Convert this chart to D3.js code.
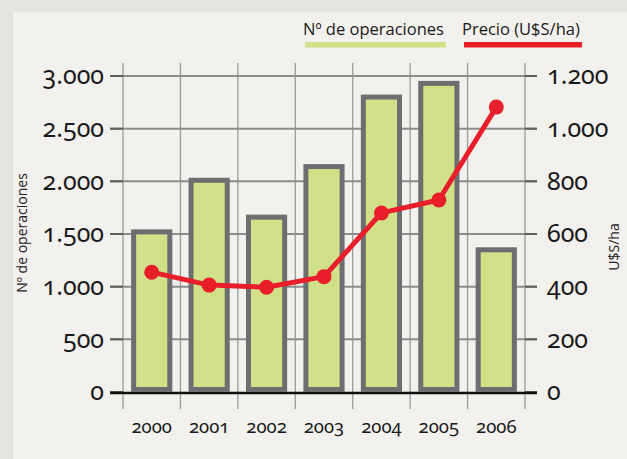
<!DOCTYPE html>
<html><head><meta charset="utf-8">
<script src="https://cdn.jsdelivr.net/npm/d3@7"></script>
<style>
body{margin:0;background:#e6e6e1;}
svg{display:block;}
.num{font-family:"Noto Sans","Open Sans",sans-serif;font-variant-numeric:oldstyle-nums;font-feature-settings:"onum" 1;}
</style></head>
<body>
<svg id="c" width="627" height="459"></svg>
<script>
const years = ["2000","2001","2002","2003","2004","2005","2006"];
const operaciones = [1520, 2010, 1660, 2140, 2800, 2930, 1350];
const precio = [455, 406, 398, 438, 680, 729, 1082];
const leftTicks = [0, 500, 1000, 1500, 2000, 2500, 3000];
const rightTicks = [0, 200, 400, 600, 800, 1000, 1200];
const legendLabels = ["Nº de operaciones", "Precio (U$S/ha)"];

const svg = d3.select("#c");
const fmt = d => d3.format(",")(d).replace(/,/g, ".");

// background
svg.append("rect").attr("width",627).attr("height",459).attr("fill","#e4e4df");
svg.append("rect").attr("x",13).attr("y",12).attr("width",614).attr("height",447).attr("fill","#f2f1ee");

const x0 = 123, x1 = 525, yTop = 76, yBot = 392;
const x = d3.scaleBand().domain(years).range([x0, x1]).paddingInner(0.37).paddingOuter(0.185);
const yL = d3.scaleLinear().domain([0, 3000]).range([yBot, yTop]);
const yR = d3.scaleLinear().domain([0, 1200]).range([yBot, yTop]);
const step = x.step();

// vertical grid lines
const vx = d3.range(years.length + 1).map(i => x0 + i * step);
svg.append("g").selectAll("line").data(vx).join("line")
  .attr("x1", d => d).attr("x2", d => d).attr("y1", 63).attr("y2", 409)
  .attr("stroke", "#9a9a9a").attr("stroke-width", 1.3);

// horizontal grid lines
svg.append("g").selectAll("line").data(leftTicks.filter(d => d > 0)).join("line")
  .attr("x1", 110).attr("x2", 537).attr("y1", d => yL(d)).attr("y2", d => yL(d))
  .attr("stroke", "#8c8c8c").attr("stroke-width", 2);

// tick marks (darker)
svg.append("g").selectAll("line").data(leftTicks).join("line")
  .attr("x1", 110).attr("x2", x0).attr("y1", d => yL(d)).attr("y2", d => yL(d))
  .attr("stroke", "#5e5e5e").attr("stroke-width", 2);
svg.append("g").selectAll("line").data(rightTicks).join("line")
  .attr("x1", x1).attr("x2", 537).attr("y1", d => yR(d)).attr("y2", d => yR(d))
  .attr("stroke", "#5e5e5e").attr("stroke-width", 2);

// baseline
svg.append("line").attr("x1", 110).attr("x2", 537).attr("y1", yL(0) + 1).attr("y2", yL(0) + 1)
  .attr("stroke", "#111").attr("stroke-width", 2.5);

// bars
svg.append("g").selectAll("rect").data(operaciones).join("rect")
  .attr("x", (d, i) => x(years[i]))
  .attr("width", x.bandwidth())
  .attr("y", d => yL(d))
  .attr("height", d => yL(0) - yL(d) - 2.5)
  .attr("fill", "#d3e08a").attr("stroke", "#6d6e70").attr("stroke-width", 5);

// line
const cx = (i) => x(years[i]) + x.bandwidth() / 2;
svg.append("path").datum(precio)
  .attr("d", d3.line().x((d, i) => cx(i)).y(d => yR(d)))
  .attr("fill", "none").attr("stroke", "#e81f2a").attr("stroke-width", 5).attr("stroke-linejoin","round");
svg.append("g").selectAll("circle").data(precio).join("circle")
  .attr("cx", (d, i) => cx(i)).attr("cy", d => yR(d)).attr("r", 7.5).attr("fill", "#e81f2a");

// left tick labels
svg.append("g").selectAll("text").data(leftTicks).join("text")
  .attr("class","num")
  .attr("x", 104).attr("y", d => yL(d)).attr("dy", "0.33em").attr("text-anchor", "end")
  .attr("font-size", 25).attr("fill", "#1a1a1a").text(fmt);
// right tick labels
svg.append("g").selectAll("text").data(rightTicks).join("text")
  .attr("class","num")
  .attr("x", 547).attr("y", d => yR(d)).attr("dy", "0.33em").attr("text-anchor", "start")
  .attr("font-size", 25).attr("fill", "#1a1a1a").text(fmt);
// year labels
svg.append("g").selectAll("text").data(years).join("text")
  .attr("class","num")
  .attr("x", d => x(d) + x.bandwidth() / 2).attr("y", 433).attr("text-anchor", "middle")
  .attr("font-size", 18.5).attr("fill", "#1a1a1a").text(d => d);

// axis titles
svg.append("text").attr("transform", "translate(27,233) rotate(-90)")
  .attr("text-anchor", "middle").attr("font-family", "'Open Sans',sans-serif")
  .attr("font-size", 14).attr("fill", "#222").text("Nº de operaciones");
svg.append("text").attr("transform", "translate(619,247) rotate(-90)")
  .attr("text-anchor", "middle").attr("font-family", "'Open Sans',sans-serif")
  .attr("font-size", 14).attr("fill", "#222").text("U$S/ha");

// legend
const legColors = ["#d3e08a", "#e81f2a"];
const legX = [303, 462], legW = [141, 118];
legendLabels.forEach((t, i) => {
  svg.append("text").attr("x", legX[i]).attr("y", 35)
    .attr("font-family", "'Open Sans',sans-serif").attr("font-size", 16.5)
    .attr("fill", "#1a1a1a").text(t);
  svg.append("rect").attr("x", legX[i] + 2).attr("y", 42).attr("width", legW[i]).attr("height", 5.5)
    .attr("fill", legColors[i]);
});
</script>
</body></html>
